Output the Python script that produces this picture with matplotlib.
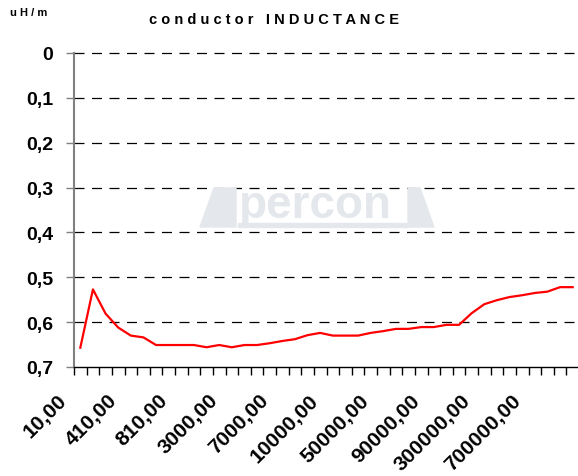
import matplotlib
matplotlib.use("Agg")
import matplotlib.pyplot as plt
from matplotlib.transforms import Affine2D, ScaledTranslation
from matplotlib.patches import Polygon, Rectangle

plt.rcParams['font.family'] = ['Liberation Sans', 'DejaVu Sans']

# ---- data ----
categories = [10, 110, 210, 310, 410, 510, 610, 710, 810, 910,
              1000, 2000, 3000, 4000, 5000, 6000, 7000, 8000, 9000, 9500,
              10000, 20000, 30000, 40000, 50000, 60000, 70000, 80000, 90000, 100000,
              200000, 250000, 300000, 400000, 500000, 600000, 700000, 800000, 900000, 1000000]
inductance = [0.657, 0.527, 0.581, 0.612, 0.630, 0.634, 0.651, 0.651, 0.651, 0.651,
              0.656, 0.651, 0.656, 0.651, 0.651, 0.647, 0.642, 0.638, 0.629, 0.624,
              0.630, 0.630, 0.630, 0.624, 0.620, 0.615, 0.615, 0.611, 0.611, 0.606,
              0.606, 0.580, 0.560, 0.551, 0.544, 0.540, 0.535, 0.532, 0.522, 0.522]
y_ticks = [0.0, 0.1, 0.2, 0.3, 0.4, 0.5, 0.6, 0.7]
y_tick_labels = ["0", "0,1", "0,2", "0,3", "0,4", "0,5", "0,6", "0,7"]
label_step = 4

W, H = 578, 477
fig = plt.figure(figsize=(W / 100, H / 100), dpi=100)
fig.patch.set_facecolor('white')

left_px, right_px, top_px, bottom_px = 74, 579, 54, 368
ax = fig.add_axes([left_px / W, 1 - bottom_px / H,
                   (right_px - left_px) / W, (bottom_px - top_px) / H])
ax.set_facecolor('none')

n = len(categories)
xs = [i + 0.5 for i in range(n)]

# watermark (figure pixel coords, origin top-left)
pt = Affine2D().scale(1 / W, -1 / H).translate(0, 1) + fig.transFigure
wm = '#e4e7ec'
fig.patches.append(Polygon([(200, 228), (214, 189), (236, 189), (236, 228)],
                           closed=True, transform=pt, color=wm, zorder=0))
fig.patches.append(Polygon([(408, 189), (420, 189), (434, 228), (408, 228)],
                           closed=True, transform=pt, color=wm, zorder=0))
fig.patches.append(Rectangle((238, 224), 170, 4, transform=pt, color=wm, zorder=0))
fig.text(315 / W, 1 - 206 / H, "percon", transform=fig.transFigure, ha='center',
         va='center', fontsize=33, fontweight='bold', color=wm, zorder=0)

# line
ax.plot(xs, inductance, color='#ff0000', lw=1.6, zorder=3, clip_on=False)

ax.set_xlim(0, n)
ax.set_ylim(0.7, 0.0)

# grid lines
for v in y_ticks[:-1]:
    ax.axhline(v, color='black', lw=0.9, dashes=(8, 6), zorder=1, clip_on=False)

# y axis
ax.set_yticks(y_ticks)
ax.set_yticklabels(y_tick_labels, fontsize=14, fontweight='bold')
ax.tick_params(axis='y', direction='out', length=6, width=1, color='#808080', pad=9)

# x axis ticks at category boundaries, labels at category centers
ax.set_xticks(range(n + 1))
ax.set_xticklabels([])
ax.tick_params(axis='x', which='major', direction='out', length=6, width=1, color='black')
lab_pos = [xs[i] for i in range(0, n, label_step)]
lab_txt = [f"{categories[i]},00" for i in range(0, n, label_step)]
ax.set_xticks(lab_pos, minor=True)
ax.set_xticklabels(lab_txt, minor=True, fontsize=15, fontweight='bold',
                   rotation=45, ha='right', va='center', rotation_mode='anchor')
ax.tick_params(axis='x', which='minor', length=0, pad=0)
off = ScaledTranslation(-0.17, -0.30, fig.dpi_scale_trans)
for lab in ax.get_xticklabels(minor=True):
    lab.set_transform(lab.get_transform() + off)

for s in ['top', 'right']:
    ax.spines[s].set_visible(False)
ax.spines['left'].set_color('#808080')
ax.spines['left'].set_linewidth(1.5)
ax.spines['bottom'].set_color('black')
ax.spines['bottom'].set_linewidth(1.0)

# titles
fig.text(274 / W, 1 - 20 / H, "c o n d u c t o r   I N D U C T A N C E",
         ha='center', va='center', fontsize=10.5, fontweight='bold')
fig.text(10 / W, 1 - 13 / H, "u H / m", ha='left', va='center',
         fontsize=8, fontweight='bold')

fig.savefig("out.png", dpi=100)
